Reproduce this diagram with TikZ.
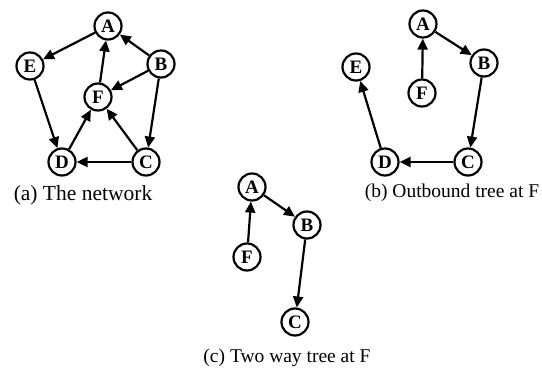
\documentclass[tikz,border=0pt]{standalone}
\usepackage{fontspec}
\setmainfont{Liberation Serif}
\usetikzlibrary{arrows.meta}
\begin{document}
\begin{tikzpicture}[x=1pt,y=-1pt,
  vert/.style={circle,draw,line width=2.2pt,minimum size=27pt,inner sep=0pt,
    font=\fontsize{19}{19}\selectfont\bfseries},
  edge/.style={line width=2.2pt,-{Triangle[length=11pt,width=10pt]}},
  caption/.style={font=\fontsize{19.5}{20}\selectfont,inner sep=0pt}]
\useasboundingbox (0,0) rectangle (542,374);

% (a) the whole network
\node[vert] (aA) at (108,26) {A};
\node[vert] (aE) at (30,66) {E};
\node[vert] (aB) at (161,64) {B};
\node[vert] (aF) at (98,97) {F};
\node[vert] (aD) at (62,162) {D};
\node[vert] (aC) at (146,162) {C};
\draw[edge] (aA) -- (aE);
\draw[edge] (aB) -- (aA);
\draw[edge] (aF) -- (aA);
\draw[edge] (aB) -- (aF);
\draw[edge] (aB) -- (aC);
\draw[edge] (aE) -- (aD);
\draw[edge] (aD) -- (aF);
\draw[edge] (aC) -- (aF);
\draw[edge] (aC) -- (aD);
\node[caption,font=\fontsize{21.5}{22}\selectfont] (capa) at (83,195) {(a) The network};

% (b) outbound tree rooted at F
\node[vert] (bA) at (423,24) {A};
\node[vert] (bE) at (356,67) {E};
\node[vert] (bB) at (484,63) {B};
\node[vert] (bF) at (422,93) {F};
\node[vert] (bD) at (385,162) {D};
\node[vert] (bC) at (468,162) {C};
\draw[edge] (bF) -- (bA);
\draw[edge] (bA) -- (bB);
\draw[edge] (bB) -- (bC);
\draw[edge] (bC) -- (bD);
\draw[edge] (bD) -- (bE);
\node[caption] (capb) at (452,193) {(b) Outbound tree at F};

% (c) two way tree rooted at F
\node[vert] (cA) at (252,187) {A};
\node[vert] (cB) at (307,225) {B};
\node[vert] (cF) at (247,257) {F};
\node[vert] (cC) at (295,322) {C};
\draw[edge] (cF) -- (cA);
\draw[edge] (cA) -- (cB);
\draw[edge] (cB) -- (cC);
\node[caption] (capc) at (287,358) {(c) Two way tree at F};
\end{tikzpicture}
\end{document}
